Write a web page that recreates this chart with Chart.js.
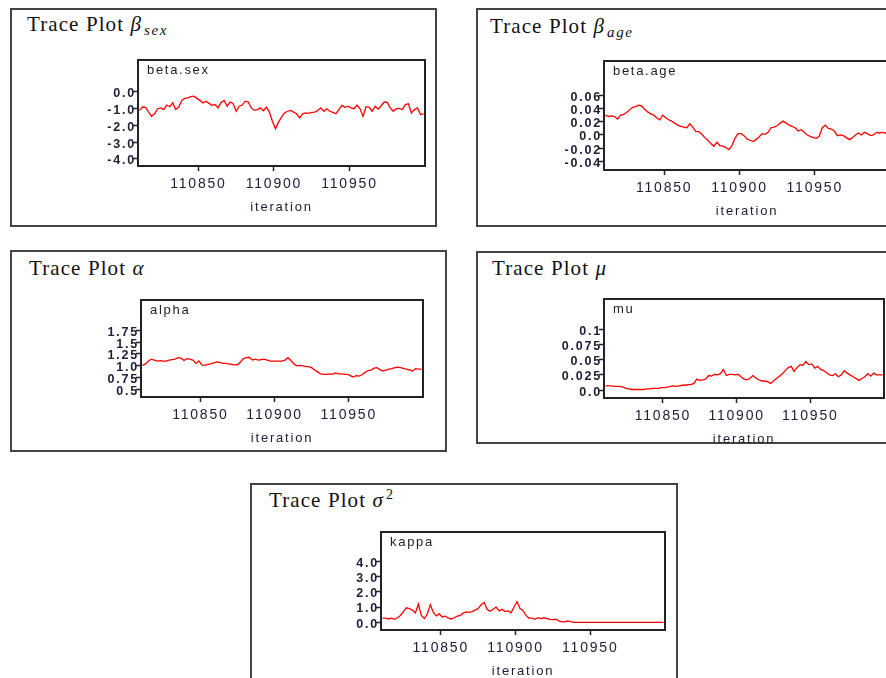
<!DOCTYPE html>
<html>
<head>
<meta charset="utf-8">
<script src="https://cdn.jsdelivr.net/npm/chart.js@4.4.1/dist/chart.umd.min.js"></script>
<style>
html, body { margin: 0; padding: 0; background: #fff; width: 886px; height: 678px; overflow: hidden; position: relative; }
.frame { position: absolute; border: 2px solid #444; box-sizing: border-box; }
.ttl { position: absolute; font-family: 'Liberation Serif', 'Times New Roman', serif; font-size: 21px; line-height: 21px; letter-spacing: 1.1px; color: #111; white-space: nowrap; }
.ttl i { padding-right: 2px; }
.sub { font-size: 15px; position: relative; top: 4px; font-style: italic; letter-spacing: 1.6px; }
.sup { font-size: 14px; position: relative; top: -8px; }
canvas { position: absolute; }
</style>
</head>
<body>
<div class="frame" style="left:10px;top:8px;width:427px;height:219px"></div>
<div class="frame" style="left:476px;top:8px;width:430px;height:219px"></div>
<div class="frame" style="left:10px;top:250px;width:437px;height:202px"></div>
<div class="frame" style="left:476px;top:251px;width:430px;height:193px"></div>
<div class="frame" style="left:250px;top:483px;width:428px;height:220px"></div>

<div class="ttl" style="left:27px;top:14px">Trace Plot <i>β</i><span class="sub">sex</span></div>
<div class="ttl" style="left:490px;top:16px">Trace Plot <i>β</i><span class="sub">age</span></div>
<div class="ttl" style="left:29px;top:258px">Trace Plot <i>α</i></div>
<div class="ttl" style="left:492px;top:258px">Trace Plot <i>μ</i></div>
<div class="ttl" style="left:269px;top:490px">Trace Plot <i>σ</i><span class="sup">2</span></div>

<script>
// iterations sampled every 2nd draw
const iterations = [110811,110813,110815,110817,110819,110821,110823,110825,110827,110829,
  110831,110833,110835,110837,110839,110841,110843,110845,110847,110849,
  110851,110853,110855,110857,110859,110861,110863,110865,110867,110869,
  110871,110873,110875,110877,110879,110881,110883,110885,110887,110889,
  110891,110893,110895,110897,110899,110901,110903,110905,110907,110909,
  110911,110913,110915,110917,110919,110921,110923,110925,110927,110929,
  110931,110933,110935,110937,110939,110941,110943,110945,110947,110949,
  110951,110953,110955,110957,110959,110961,110963,110965,110967,110969,
  110971,110973,110975,110977,110979,110981,110983,110985,110987,110989,
  110991,110993,110995,110997,110999]

const betaSex = [-1.1,-0.9,-0.92,-1.2,-1.45,-1.3,-1.0,-0.95,-1.05,-0.78,
  -0.88,-0.65,-1.05,-0.9,-0.5,-0.38,-0.35,-0.28,-0.25,-0.38,
  -0.5,-0.65,-0.55,-0.68,-0.8,-0.75,-0.95,-0.62,-0.5,-0.85,
  -0.6,-0.7,-1.15,-0.85,-0.78,-0.55,-0.6,-0.95,-1.1,-1.05,
  -0.95,-1.12,-0.9,-1.2,-1.75,-2.2,-1.8,-1.5,-1.25,-1.15,
  -1.1,-1.2,-1.3,-1.55,-1.3,-1.25,-1.28,-1.22,-1.2,-1.1,
  -0.95,-1.15,-1.0,-1.15,-1.22,-1.3,-1.05,-0.8,-0.92,-0.85,
  -0.95,-1.0,-0.78,-1.0,-1.45,-0.88,-0.9,-1.15,-0.85,-1.02,
  -0.82,-0.6,-0.62,-0.95,-1.15,-1.0,-0.98,-1.05,-0.75,-0.7,
  -1.25,-1.05,-0.95,-1.35,-1.3]

const betaAge = [0.03,0.028,0.029,0.028,0.024,0.03,0.031,0.034,0.038,0.042,
  0.043,0.045,0.044,0.039,0.035,0.032,0.03,0.026,0.023,0.03,
  0.026,0.023,0.021,0.018,0.015,0.013,0.012,0.011,0.017,0.012,
  0.005,0.005,0.001,-0.004,-0.008,-0.013,-0.017,-0.011,-0.016,-0.017,
  -0.019,-0.022,-0.016,-0.005,0.002,0.002,-0.001,-0.006,-0.008,-0.01,
  -0.007,-0.003,0.002,0.001,0.004,0.011,0.012,0.014,0.018,0.021,
  0.018,0.015,0.013,0.011,0.006,0.008,0.004,0.0,-0.002,-0.004,
  -0.005,-0.002,0.011,0.015,0.01,0.009,0.006,-0.001,0.0,-0.001,
  -0.004,-0.007,-0.004,0.0,0.003,0.0,0.004,0.002,-0.001,0.0,
  0.004,0.003,0.004,0.003,0.002]

const alpha = [1.01,1.04,1.1,1.14,1.12,1.1,1.11,1.1,1.1,1.12,
  1.13,1.14,1.17,1.16,1.11,1.15,1.14,1.12,1.05,1.1,
  1.02,1.01,1.03,1.04,1.06,1.08,1.07,1.05,1.05,1.04,
  1.03,1.02,1.02,1.08,1.15,1.17,1.18,1.12,1.14,1.12,
  1.13,1.14,1.12,1.1,1.1,1.1,1.1,1.1,1.12,1.17,
  1.11,1.04,1.0,1.01,1.0,0.98,0.98,0.96,0.91,0.87,
  0.83,0.82,0.82,0.83,0.82,0.85,0.83,0.83,0.82,0.82,
  0.79,0.76,0.79,0.78,0.81,0.86,0.9,0.91,0.95,0.96,
  0.92,0.89,0.91,0.93,0.94,0.96,0.97,0.96,0.94,0.93,
  0.91,0.89,0.94,0.93,0.93]

const mu = [0.007,0.007,0.007,0.006,0.006,0.006,0.005,0.003,0.002,0.001,
  0.001,0.001,0.001,0.001,0.002,0.002,0.003,0.003,0.003,0.004,
  0.004,0.005,0.006,0.007,0.006,0.007,0.008,0.008,0.009,0.009,
  0.011,0.018,0.016,0.017,0.018,0.024,0.023,0.026,0.025,0.027,
  0.034,0.024,0.026,0.026,0.025,0.026,0.022,0.018,0.017,0.019,
  0.024,0.02,0.017,0.015,0.015,0.014,0.011,0.015,0.019,0.023,
  0.027,0.032,0.037,0.039,0.031,0.037,0.042,0.041,0.047,0.042,
  0.043,0.036,0.039,0.034,0.032,0.029,0.025,0.024,0.027,0.022,
  0.025,0.032,0.028,0.025,0.022,0.019,0.016,0.019,0.022,0.027,
  0.023,0.028,0.025,0.025,0.025]

const kappa = [0.27,0.27,0.22,0.27,0.2,0.3,0.45,0.7,0.95,0.9,
  0.8,0.62,1.2,0.45,0.25,0.55,1.15,0.65,0.42,0.55,
  0.35,0.4,0.27,0.22,0.3,0.4,0.45,0.6,0.68,0.65,
  0.7,0.8,0.9,1.15,1.3,0.85,0.72,0.86,1.0,0.75,
  0.85,0.7,0.75,0.62,1.0,1.35,0.9,0.78,0.45,0.28,
  0.27,0.2,0.3,0.25,0.3,0.25,0.2,0.18,0.2,0.1,
  0.03,0.04,0.09,0.05,0.0,0,0,0,0,0,
  0,0,0,0,0,0,0,0,0,0,
  0,0,0,0,0,0,0,0,0,0,
  0,0,0,0,0]

const xTickValues = [110850, 110900, 110950]

const sexTicks = [-4, -3, -2, -1, 0]
const sexTickLabels = ['-4.0', '-3.0', '-2.0', '-1.0', '0.0']
const ageTicks = [-0.04, -0.02, 0, 0.02, 0.04, 0.06]
const ageTickLabels = ['-0.04', '-0.02', '0.0', '0.02', '0.04', '0.06']
const alphaTicks = [0.5, 0.75, 1, 1.25, 1.5, 1.75]
const alphaTickLabels = ['0.5', '0.75', '1.0', '1.25', '1.5', '1.75']
const muTicks = [0, 0.025, 0.05, 0.075, 0.1]
const muTickLabels = ['0.0', '0.025', '0.05', '0.075', '0.1']
const kappaTicks = [0, 1, 2, 3, 4]
const kappaTickLabels = ['0.0', '1.0', '2.0', '3.0', '4.0']

const inkColor = '#20203a'
const yAxisW = 60, xAxisH = 52, padTop = 10, padRight = 4

// box round the plot area + the node name in its corner
const boxPlugin = {
  id: 'box',
  beforeDraw(chart) {
    chart.ctx.letterSpacing = '1.8px'
  },
  afterDraw(chart, args, opts) {
    const ctx = chart.ctx
    const a = chart.chartArea
    ctx.save()
    ctx.strokeStyle = '#222'
    ctx.lineWidth = 2
    ctx.strokeRect(a.left, a.top, a.right - a.left, a.bottom - a.top)
    ctx.font = '13px "Liberation Sans", Arial, sans-serif'
    ctx.fillStyle = '#222'
    ctx.letterSpacing = '1.7px'
    ctx.textBaseline = 'alphabetic'
    ctx.fillText(opts.name, a.left + 9, a.top + 14)
    ctx.restore()
  }
}

function makeTrace(name, values, yMin, yMax, yTicks, yLabels, area) {
  let cv = document.createElement('canvas')
  let w = area.r - area.l + yAxisW + padRight
  let h = area.b - area.t + padTop + xAxisH
  cv.width = w
  cv.height = h
  cv.style.left = (area.l - yAxisW) + 'px'
  cv.style.top = (area.t - padTop) + 'px'
  cv.style.width = w + 'px'
  cv.style.height = h + 'px'
  document.body.appendChild(cv)

  new Chart(cv.getContext('2d'), {
    type: 'line',
    data: {
      labels: iterations,
      datasets: [{
        data: values,
        borderColor: '#ff0000',
        borderWidth: 1.3,
        pointRadius: 0,
        tension: 0,
        fill: false
      }]
    },
    options: {
      responsive: false,
      animation: false,
      devicePixelRatio: 1,
      layout: { padding: { top: padTop, right: padRight, left: 0, bottom: 0 } },
      plugins: {
        legend: { display: false },
        tooltip: { enabled: false },
        box: { name: name }
      },
      scales: {
        x: {
          type: 'linear',
          min: 110810,
          max: 111000,
          afterBuildTicks: s => { s.ticks = xTickValues.map(v => ({ value: v })) },
          afterFit: s => { s.height = xAxisH },
          border: { display: false },
          grid: { drawOnChartArea: false, drawTicks: true, tickLength: 5, tickColor: '#222', tickWidth: 1.5 },
          ticks: {
            autoSkip: false, maxRotation: 0, padding: 5, color: inkColor,
            font: { family: '"Liberation Sans", Arial, sans-serif', size: 14 },
            callback: v => String(v)
          },
          title: {
            display: true, text: 'iteration', color: inkColor,
            font: { family: '"Liberation Sans", Arial, sans-serif', size: 13 },
            padding: { top: 0, bottom: 3 }
          }
        },
        y: {
          min: yMin,
          max: yMax,
          afterBuildTicks: s => { s.ticks = yTicks.map(v => ({ value: v })) },
          afterFit: s => { s.width = yAxisW },
          border: { display: false },
          grid: { drawOnChartArea: false, drawTicks: true, tickLength: 5, tickColor: '#222', tickWidth: 1.5 },
          ticks: {
            padding: -3, labelOffset: 2, color: inkColor,
            font: { family: '"Liberation Sans", Arial, sans-serif', size: 12.5, weight: 'bold' },
            callback: (v, i) => yLabels[i]
          }
        }
      }
    },
    plugins: [boxPlugin]
  })
}

makeTrace('beta.sex', betaSex, -4.42, 1.91, sexTicks, sexTickLabels, { l: 138, t: 60, r: 425, b: 166 })
makeTrace('beta.age', betaAge, -0.053, 0.112, ageTicks, ageTickLabels, { l: 604, t: 61, r: 890, b: 170 })
makeTrace('alpha', alpha, 0.34, 2.39, alphaTicks, alphaTickLabels, { l: 141, t: 300, r: 423, b: 397 })
makeTrace('mu', mu, -0.013, 0.15, muTicks, muTickLabels, { l: 604, t: 299, r: 884, b: 398 })
makeTrace('kappa', kappa, -0.5, 5.9, kappaTicks, kappaTickLabels, { l: 381, t: 532, r: 665, b: 630 })
</script>
</body>
</html>
